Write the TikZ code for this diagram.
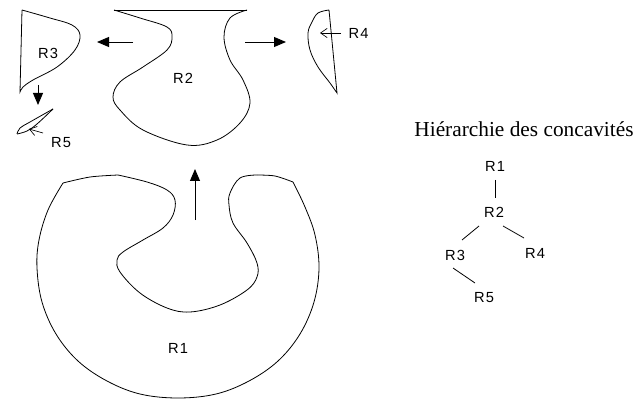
\documentclass[tikz,border=0pt]{standalone}
\usepackage{fontspec}
\usetikzlibrary{arrows.meta}
\newfontfamily\labfont[LetterSpace=8]{Liberation Sans}
\newfontfamily\titlefont{Liberation Serif}
\begin{document}
\begin{tikzpicture}[x=0.75pt,y=-0.75pt,line width=0.6pt,
  outline/.style={draw=black,line width=0.6pt},
  lab/.style={font=\labfont\fontsize{11}{13}\selectfont,inner sep=1pt},
  bigarrow/.style={-{Triangle[length=9pt,width=7.5pt]},line width=0.7pt},
  openarrow/.style={-{Straight Barb[length=5pt,width=7pt]},line width=0.5pt},
  treeedge/.style={line width=0.6pt}]
\useasboundingbox (0,0) rectangle (635,399);
% R3
\draw[outline] plot[smooth,tension=0.6] coordinates {(22,10) (50,18) (72,25) (80,35) (75,50) (57,67) (33,80) (23,87) (20,92)} -- (22,10);
\node[lab] (lR3) at (48,53) {R3};
% R2
\draw[outline] (114,10) -- (247,10);
\draw[outline] plot[smooth,tension=0.6] coordinates {(114,10) (140,18) (167,27) (172,37) (167,50) (143,67) (120,82) (113,97) (120,110) (143,130) (187,145) (217,140) (240,123) (250,103) (243,80) (230,60) (224,37) (230,18) (247,10)};
\node[lab] (lR2) at (183,78) {R2};
% R4
\draw[outline] plot[smooth,tension=0.6] coordinates {(329,10) (318,13) (312,22) (308,33) (310,50) (318,67) (330,83) (337,93)} -- (329,10);
\coordinate (r4in) at (320,33);
\coordinate (r4tail) at (341,33);
\node[lab,anchor=west] (lR4) at (347,33) {R4};
\draw[openarrow] (r4tail) -- (r4in);
% R5
\draw[outline] plot[smooth,tension=0.6] coordinates {(17,134) (20,128) (30,122) (53,109)};
\draw[outline] plot[smooth,tension=0.6] coordinates {(17,134) (27,131) (37,124) (53,109)};
\coordinate (r5in) at (29,129);
\coordinate (r5tail) at (43,133);
\node[lab] (lR5) at (61,143) {R5};
\draw[openarrow] (r5tail) -- (r5in);
% arrows
\coordinate (aL1) at (133,42); \coordinate (aL2) at (97,42);
\draw[bigarrow] (aL1) -- (aL2);
\coordinate (aR1) at (245,42); \coordinate (aR2) at (286,42);
\draw[bigarrow] (aR1) -- (aR2);
\coordinate (aD1) at (38,85); \coordinate (aD2) at (38,105);
\draw[bigarrow] (aD1) -- (aD2);
\coordinate (aU1) at (195,220); \coordinate (aU2) at (195,169);
\draw[bigarrow] (aU1) -- (aU2);
% R1
\draw[outline] plot[smooth,tension=0.5] coordinates {(118,175) (90,177) (63,183)};
\draw[outline] plot[smooth,tension=0.6] coordinates {(63,183) (48,210) (39,240) (37,268) (42,302) (56,334) (78,361) (107,381) (140,394) (178,398) (216,394) (249,381) (278,361) (300,334) (314,302) (319,268) (315,235) (305,207) (293,182)};
\draw[outline] plot[smooth,tension=0.5] coordinates {(293,182) (275,176) (257,175)};
\draw[outline] plot[smooth,tension=0.6] coordinates {(257,175) (240,178) (230,193) (229,205) (233,223) (247,243) (257,263) (257,277) (247,290) (220,305) (190,312) (167,308) (140,293) (120,272) (117,260) (123,252) (143,240) (163,228) (173,215) (175,200) (167,190) (147,182) (118,175)};
\node[lab] (lR1) at (178,348) {R1};
% hierarchy
\node[font=\titlefont\fontsize{16}{19}\selectfont,anchor=base,inner sep=0pt] (title) at (524,137) {Hiérarchie des concavités};
\node[lab] (t1) at (495,166) {R1};
\node[lab] (t2) at (494,212) {R2};
\node[lab] (t3) at (455,255) {R3};
\node[lab] (t4) at (535,253) {R4};
\node[lab] (t5) at (484,298) {R5};
\draw[treeedge] ([shift={(0,14)}]t1.center) -- ([shift={(1,-14)}]t2.center);
\draw[treeedge] ([shift={(-15,14)}]t2.center) -- ([shift={(7,-15)}]t3.center);
\draw[treeedge] ([shift={(9,14)}]t2.center) -- ([shift={(-11,-15)}]t4.center);
\draw[treeedge] ([shift={(-2,13)}]t3.center) -- ([shift={(-9,-15)}]t5.center);
\end{tikzpicture}
\end{document}
